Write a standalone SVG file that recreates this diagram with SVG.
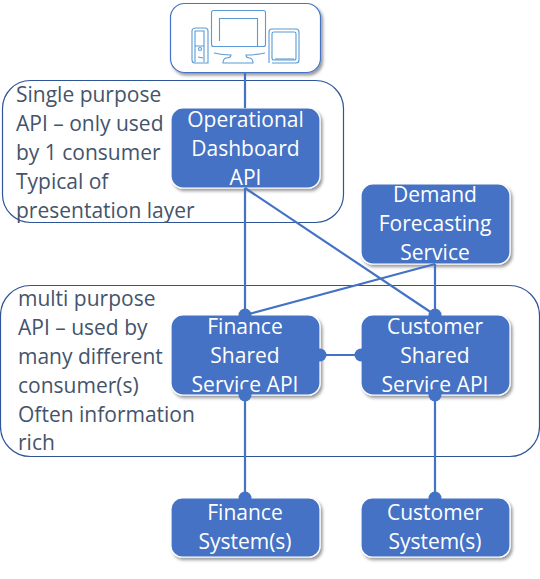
<svg xmlns="http://www.w3.org/2000/svg" width="540" height="579" viewBox="0 0 540 579">
<defs>
<filter id="sh" x="-10%" y="-10%" width="125%" height="125%"><feDropShadow dx="2" dy="2.5" stdDeviation="1.5" flood-color="#000" flood-opacity="0.4"/></filter>
</defs>
<style>
text{font-family:"Open Sans","Noto Sans","Liberation Sans",sans-serif;font-size:21px}
.n rect{fill:#4472c4;stroke:#fff;stroke-width:1.2;filter:url(#sh)}
.n text{fill:#fff;text-anchor:middle}
.p rect{fill:none;stroke:#2f5597;stroke-width:1.2}
.p text{fill:#44546a}
.c line{stroke:#4472c4;stroke-width:2.2}
.c circle{fill:#4472c4}
.i *{fill:none;stroke:#5b9bd5;stroke-width:1.1}
</style>
<rect width="540" height="579" fill="#fff"/>
<g id="panel-single" class="p">
<rect x="2.500" y="80.500" width="341" height="142" rx="28"/>
<text x="16" y="102">Single purpose</text>
<text x="16" y="131">API – only used</text>
<text x="16" y="160">by 1 consumer</text>
<text x="16" y="189">Typical of</text>
<text x="16" y="218">presentation layer</text>
</g>
<g id="panel-multi" class="p">
<rect x="0.500" y="285.500" width="539" height="171" rx="30"/>
<text x="18" y="306">multi purpose</text>
<text x="18" y="335">API – used by</text>
<text x="18" y="364">many different</text>
<text x="18" y="393">consumer(s)</text>
<text x="18" y="422">Often information</text>
<text x="18" y="450">rich</text>
</g>
<g id="clients">
<rect x="170.500" y="3.500" width="150" height="69" rx="14" fill="#fff" stroke="#4472c4" stroke-width="1.2" filter="url(#sh)"/>
<g class="i">
<rect x="211.500" y="10.500" width="54" height="36" rx="2"/>
<path d="M219.500 41V18.500H257.500V46"/>
<path d="M214 53Q222 55 231 55Q231 58 226 58Q223 59 223 63H253Q253 59 250 58Q246 58 246 55Q256 55 265 53"/>
<path d="M208 63V31q0-3-3-3h-9q-4 0-4 3v29q0 3 3 3h13z"/>
<path d="M195 62V31h9V62M195 46h9M198 57l5 1"/>
<circle cx="200" cy="49" r="1.500"/>
<path d="M269 63V32q0-3 3-3h24q3 0 3 3v28q0 3-3 3h-24"/>
<rect x="272" y="32" width="24" height="28" rx="2"/>
<path d="M275 59h19" stroke-width="2"/>
</g>
</g>
<g id="operational" class="n">
<rect x="171" y="108" width="149" height="80" rx="12"/>
<text x="245.500" y="127">Operational</text>
<text x="245.500" y="156">Dashboard</text>
<text x="245.500" y="185">API</text>
</g>
<g id="demand" class="n">
<rect x="361" y="184" width="149" height="80" rx="12"/>
<text x="435" y="202">Demand</text>
<text x="435" y="231">Forecasting</text>
<text x="435" y="260">Service</text>
</g>
<g id="finance-api" class="n">
<rect x="171" y="315" width="149" height="80" rx="12"/>
<text x="245" y="334">Finance</text>
<text x="245" y="363">Shared</text>
<text x="245" y="392">Service API</text>
</g>
<g id="customer-api" class="n">
<rect x="361" y="315" width="149" height="80" rx="12"/>
<text x="435" y="334">Customer</text>
<text x="435" y="363">Shared</text>
<text x="435" y="392">Service API</text>
</g>
<g id="finance-system" class="n">
<rect x="171" y="498" width="149" height="59" rx="11"/>
<text x="245" y="520">Finance</text>
<text x="245" y="549">System(s)</text>
</g>
<g id="customer-system" class="n">
<rect x="361" y="498" width="149" height="59" rx="11"/>
<text x="435" y="520">Customer</text>
<text x="435" y="549">System(s)</text>
</g>
<g id="connectors" class="c">
<line x1="245" y1="72" x2="245" y2="108"/>
<line x1="245" y1="188" x2="245" y2="315"/>
<line x1="245" y1="188" x2="435" y2="315"/>
<line x1="435" y1="264" x2="245" y2="315"/>
<line x1="435" y1="264" x2="435" y2="315"/>
<line x1="320" y1="355" x2="361" y2="355"/>
<line x1="245" y1="395" x2="245" y2="498"/>
<line x1="435" y1="395" x2="435" y2="498"/>
<circle cx="245" cy="315" r="6.500"/>
<circle cx="435" cy="315" r="6.500"/>
<circle cx="320" cy="355" r="6.500"/>
<circle cx="361" cy="355" r="6.500"/>
<circle cx="245" cy="395" r="6.500"/>
<circle cx="435" cy="395" r="6.500"/>
<circle cx="245" cy="498" r="6.500"/>
<circle cx="435" cy="498" r="6.500"/>
</g>
</svg>
